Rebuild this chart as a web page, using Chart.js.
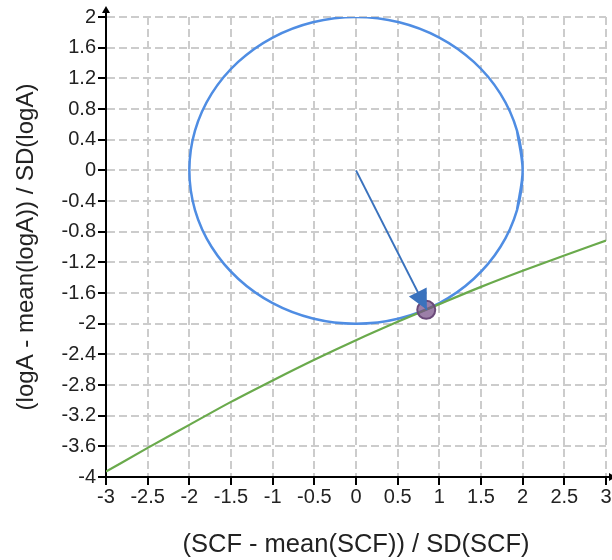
<!DOCTYPE html>
<html>
<head>
<meta charset="utf-8">
<script src="https://cdn.jsdelivr.net/npm/chart.js@4"></script>
<style>
  html, body { margin: 0; padding: 0; background: #fff; }
</style>
</head>
<body>
<canvas id="grafico" width="612" height="560"></canvas>
<script>
// Ticks de los ejes
const xTicks = [-3, -2.5, -2, -1.5, -1, -0.5, 0, 0.5, 1, 1.5, 2, 2.5, 3];
const yTicks = [2, 1.6, 1.2, 0.8, 0.4, 0, -0.4, -0.8, -1.2, -1.6, -2, -2.4, -2.8, -3.2, -3.6, -4];

// Circulo de radio 2 (puntos cada 15 grados, se repite el inicio para cerrarlo)
const circuloX = [1.932, 2, 1.932, 1.732, 1.414, 1, 0.518, 0, -0.518, -1, -1.414, -1.732, -1.932, -2,
                  -1.932, -1.732, -1.414, -1, -0.518, 0, 0.518, 1, 1.414, 1.732, 1.932, 2, 1.932];
const circuloY = [-0.518, 0, 0.518, 1, 1.414, 1.732, 1.932, 2, 1.932, 1.732, 1.414, 1, 0.518, 0,
                  -0.518, -1, -1.414, -1.732, -1.932, -2, -1.932, -1.732, -1.414, -1, -0.518, 0, 0.518];

// Curva verde
const curvaX = [-3, -2.5, -2, -1.5, -1, -0.5, 0, 0.5, 1, 1.5, 2, 2.5, 3];
const curvaY = [-3.93, -3.62, -3.32, -3.02, -2.74, -2.47, -2.215, -1.975, -1.745, -1.52, -1.31, -1.11, -0.915];

// Punto de tangencia y flecha desde el origen
const puntoX = [0.843];
const puntoY = [-1.82];
const flechaX = [0, 0.85];
const flechaY = [0, -1.82];

const FUENTE = "'Liberation Sans', Arial, sans-serif";

const aPuntos = (xs, ys) => xs.map((x, i) => ({ x: x, y: ys[i] }));

// Dibuja la punta de la flecha y las flechas de los ejes
const pluginFlechas = {
    id: 'flechas',
    afterDatasetsDraw(chart) {
        const ctx = chart.ctx;
        const sx = chart.scales.x, sy = chart.scales.y;

        const x0 = sx.getPixelForValue(flechaX[0]), y0 = sy.getPixelForValue(flechaY[0]);
        const x1 = sx.getPixelForValue(flechaX[1]), y1 = sy.getPixelForValue(flechaY[1]);
        const ang = Math.atan2(y1 - y0, x1 - x0);
        const largo = 20, ancho = 10;
        ctx.save();
        ctx.fillStyle = '#3a72bd';
        ctx.beginPath();
        ctx.moveTo(x1, y1);
        ctx.lineTo(x1 - largo * Math.cos(ang) + ancho * Math.sin(ang), y1 - largo * Math.sin(ang) - ancho * Math.cos(ang));
        ctx.lineTo(x1 - largo * Math.cos(ang) - ancho * Math.sin(ang), y1 - largo * Math.sin(ang) + ancho * Math.cos(ang));
        ctx.closePath();
        ctx.fill();
        ctx.restore();
    },
    afterDraw(chart) {
        const ctx = chart.ctx;
        const a = chart.chartArea;
        ctx.save();
        ctx.strokeStyle = '#000';
        ctx.fillStyle = '#000';
        ctx.lineWidth = 2;
        // eje y hacia arriba
        ctx.beginPath();
        ctx.moveTo(a.left, a.top);
        ctx.lineTo(a.left, a.top - 6);
        ctx.stroke();
        ctx.beginPath();
        ctx.moveTo(a.left, a.top - 11);
        ctx.lineTo(a.left - 4, a.top - 4);
        ctx.lineTo(a.left + 4, a.top - 4);
        ctx.closePath();
        ctx.fill();
        // eje x hacia la derecha
        ctx.beginPath();
        ctx.moveTo(a.right, a.bottom);
        ctx.lineTo(a.right + 4, a.bottom);
        ctx.stroke();
        ctx.beginPath();
        ctx.moveTo(a.right + 10, a.bottom);
        ctx.lineTo(a.right + 3, a.bottom - 4);
        ctx.lineTo(a.right + 3, a.bottom + 4);
        ctx.closePath();
        ctx.fill();
        ctx.restore();
    }
};

function opcionesEje(ticks, titulo, esX) {
    return {
        type: 'linear',
        min: Math.min(...ticks),
        max: Math.max(...ticks),
        afterBuildTicks: (scale) => { scale.ticks = ticks.map(v => ({ value: v })); },
        afterFit: (scale) => {
            if (esX) {
                scale.height = 83;
                scale.paddingLeft = 0;
                scale.paddingRight = 6;
            } else {
                scale.width = 106;
            }
        },
        grid: {
            color: '#cccccc',
            lineWidth: 2,
            tickColor: '#000',
            tickWidth: 2,
            tickLength: 8,
            tickBorderDash: []
        },
        border: { display: true, color: '#000', width: 2, dash: [8, 4] },
        ticks: {
            color: '#222',
            padding: esX ? 0 : 2,
            font: { family: FUENTE, size: 20 },
            maxRotation: 0,
            autoSkip: false,
            callback: (v) => String(v)
        },
        title: {
            display: true,
            text: titulo,
            color: '#222',
            font: { family: FUENTE, size: esX ? 25.5 : 24, lineHeight: 1.2 },
            padding: esX ? { top: 0, bottom: 0 } : { top: 12, bottom: 0 }
        }
    };
}

new Chart(document.getElementById('grafico'), {
    type: 'scatter',
    data: {
        datasets: [
            {
                data: aPuntos(flechaX, flechaY),
                showLine: true,
                borderColor: '#3a72bd',
                borderWidth: 2,
                pointRadius: 0,
                order: 0
            },
            {
                data: aPuntos(puntoX, puntoY),
                pointRadius: 9,
                pointBackgroundColor: 'rgba(118, 78, 135, 0.72)',
                pointBorderColor: '#6b4a7a',
                pointBorderWidth: 2,
                order: 1
            },
            {
                data: aPuntos(curvaX, curvaY),
                showLine: true,
                borderColor: '#6aaa4c',
                borderWidth: 2.2,
                pointRadius: 0,
                cubicInterpolationMode: 'monotone',
                order: 2
            },
            {
                data: aPuntos(circuloX, circuloY),
                showLine: true,
                borderColor: '#4f8de3',
                borderWidth: 2.5,
                pointRadius: 0,
                tension: 0.33,
                order: 3
            }
        ]
    },
    options: {
        responsive: false,
        animation: false,
        devicePixelRatio: 1,
        layout: { autoPadding: false, padding: { top: 17, right: 0, left: 0, bottom: 0 } },
        plugins: {
            legend: { display: false },
            tooltip: { enabled: false }
        },
        scales: {
            x: opcionesEje(xTicks, '(SCF - mean(SCF)) / SD(SCF)', true),
            y: opcionesEje(yTicks, '(logA - mean(logA)) / SD(logA)', false)
        }
    },
    plugins: [pluginFlechas]
});
</script>
</body>
</html>
